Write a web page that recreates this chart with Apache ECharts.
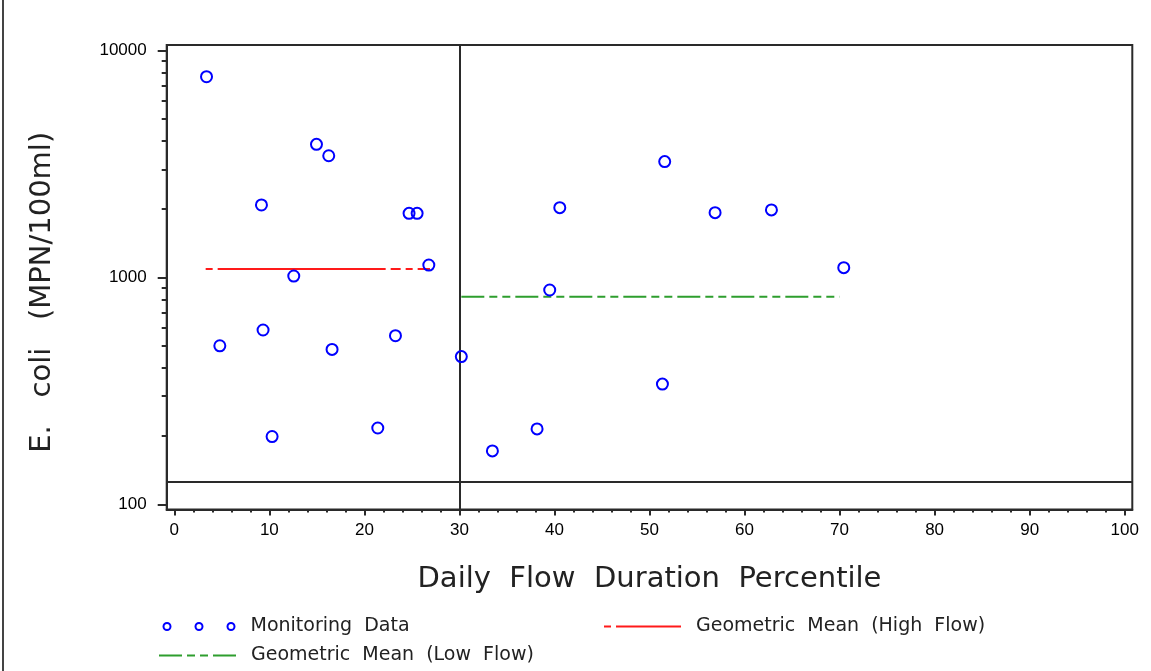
<!DOCTYPE html>
<html><head><meta charset="utf-8">
<script src="https://cdn.jsdelivr.net/npm/echarts@6/dist/echarts.min.js"></script>
<style>html,body{margin:0;padding:0;background:#fff}#wrap{position:relative;width:1151px;height:671px}#c{width:1151px;height:671px}#edge{position:absolute;left:2px;top:0;width:2px;height:671px;background:#444}</style>
</head><body><div id="wrap"><div id="c"></div><div id="edge"></div></div><script>
// Monitoring data: flow duration percentile vs E. coli
const pctile = [3.39, 4.79, 9.17, 9.34, 10.29, 12.57, 14.96, 16.25, 16.6, 21.41, 23.27, 24.7, 25.55, 26.78, 30.2, 33.47, 38.17, 39.5, 40.56, 51.36, 51.6, 56.9, 62.83, 70.44];
const ecoli  = [7680, 500, 2089, 587, 199, 1015, 3864, 3443, 482, 217, 554, 1919, 1919, 1135, 448, 172, 215, 881, 2032, 339, 3244, 1932, 1986, 1105];
// Geometric means
const highFlowX = [3.3, 26.9];
const highFlowMean = 1090;
const lowFlowX = [30.2, 70.0];
const lowFlowMean = 823;
// Reference lines
const refX = 30;
const refY = 126;
// Axis ticks
const xMajorTicks = [0, 10, 20, 30, 40, 50, 60, 70, 80, 90, 100];
const xMinorTicks = [2, 4, 6, 8, 12, 14, 16, 18, 22, 24, 26, 28, 32, 34, 36, 38, 42, 44, 46, 48, 52, 54, 56, 58, 62, 64, 66, 68, 72, 74, 76, 78, 82, 84, 86, 88, 92, 94, 96, 98];
const yMajorTicks = [100, 1000, 10000];
const yMinorTicks = [200, 300, 400, 500, 600, 700, 800, 900, 2000, 3000, 4000, 5000, 6000, 7000, 8000, 9000];
const xRange = [-0.8, 100.8];
const yRange = [94.9, 10595];

const FONT = 'Liberation Sans, Arial, sans-serif';
const TFONT = 'DejaVu Sans, sans-serif';
const frameColor = '#2a2a2a';

const chart = echarts.init(document.getElementById('c'), null, {renderer: 'canvas'});
const ringsIcon = 'path://M0.5,4A3.5,3.5 0 1,1 7.5,4A3.5,3.5 0 1,1 0.5,4Z M32.5,4A3.5,3.5 0 1,1 39.5,4A3.5,3.5 0 1,1 32.5,4Z M64.5,4A3.5,3.5 0 1,1 71.5,4A3.5,3.5 0 1,1 64.5,4Z';
const noSymbol = {color: 'rgba(0,0,0,0)', borderWidth: 0, borderColor: 'rgba(0,0,0,0)'};

chart.setOption({
  animation: false,
  backgroundColor: '#fff',
  grid: {left: 166.7, right: 18.7, top: 45, bottom: 161.5, show: true, borderColor: frameColor, borderWidth: 2, containLabel: false},
  xAxis: [{
    type: 'value', min: xRange[0], max: xRange[1], position: 'bottom',
    name: 'Daily  Flow  Duration  Percentile', nameLocation: 'middle', nameGap: 55,
    nameTextStyle: {fontFamily: TFONT, fontSize: 29, color: '#222'},
    axisLine: {show: true, onZero: false, lineStyle: {color: frameColor, width: 2}},
    axisTick: {show: true, customValues: xMajorTicks, length: 6, lineStyle: {color: frameColor, width: 2}},
    axisLabel: {customValues: xMajorTicks, margin: 12, fontFamily: FONT, fontSize: 17, color: '#000', formatter: v => String(Math.round(v))},
    splitLine: {show: false}
  }, {
    type: 'value', min: xRange[0], max: xRange[1], position: 'bottom',
    axisLine: {show: false, onZero: false},
    axisTick: {show: true, customValues: xMinorTicks, length: 3, lineStyle: {color: frameColor, width: 2}},
    axisLabel: {show: false},
    splitLine: {show: false}
  }],
  yAxis: [{
    type: 'log', logBase: 10, min: yRange[0], max: yRange[1], position: 'left',
    name: 'E.   coli   (MPN/100ml)', nameLocation: 'middle', nameGap: 110,
    nameTextStyle: {fontFamily: TFONT, fontSize: 29, color: '#222', padding: [0, 30, 0, 0]},
    axisLine: {show: true, onZero: false, lineStyle: {color: frameColor, width: 2}},
    axisTick: {show: true, customValues: yMajorTicks, length: 9, lineStyle: {color: frameColor, width: 2}},
    axisLabel: {customValues: yMajorTicks, margin: 20, fontFamily: FONT, fontSize: 17, color: '#000', formatter: v => String(Math.round(v))},
    splitLine: {show: false}
  }, {
    type: 'log', logBase: 10, min: yRange[0], max: yRange[1], position: 'left',
    axisLine: {show: false, onZero: false},
    axisTick: {show: true, customValues: yMinorTicks, length: 5, lineStyle: {color: frameColor, width: 2}},
    axisLabel: {show: false},
    splitLine: {show: false}
  }],
  legend: [{
    left: 162.5, top: 617, padding: 0, itemWidth: 71, itemHeight: 7,
    textStyle: {fontFamily: TFONT, fontSize: 19, color: '#222', lineHeight: 18, padding: [0, 0, 0, 11]},
    data: [{name: 'Monitoring Data', icon: ringsIcon, itemStyle: {color: 'rgba(0,0,0,0)', borderColor: '#0000ff', borderWidth: 2}}],
    formatter: () => 'Monitoring  Data'
  }, {
    left: 603, top: 617, padding: 0, itemWidth: 77, itemHeight: 7,
    textStyle: {fontFamily: TFONT, fontSize: 19, color: '#222', lineHeight: 18, padding: [0, 0, 0, 10]},
    itemStyle: noSymbol,
    data: [{name: 'Geometric Mean (High Flow)', itemStyle: noSymbol}],
    formatter: () => 'Geometric  Mean  (High  Flow)'
  }, {
    left: 158, top: 646, padding: 0, itemWidth: 80, itemHeight: 7,
    textStyle: {fontFamily: TFONT, fontSize: 19, color: '#222', lineHeight: 18, padding: [0, 0, 0, 7]},
    itemStyle: noSymbol,
    data: [{name: 'Geometric Mean (Low Flow)', itemStyle: noSymbol}],
    formatter: () => 'Geometric  Mean  (Low  Flow)'
  }],
  series: [{
    name: 'Monitoring Data', type: 'scatter', xAxisIndex: 0, yAxisIndex: 0,
    symbol: 'circle', symbolSize: 11,
    itemStyle: {color: 'rgba(0,0,0,0)', borderColor: '#0000ff', borderWidth: 2, opacity: 1},
    data: pctile.map((x, i) => [x, ecoli[i]]),
    markLine: {
      silent: true, symbol: ['none', 'none'], animation: false,
      label: {show: false},
      lineStyle: {color: frameColor, width: 2, type: 'solid'},
      emphasis: {disabled: true},
      data: [{xAxis: refX}, {yAxis: refY}]
    },
    z: 5
  }, {
    name: 'Geometric Mean (High Flow)', type: 'line', xAxisIndex: 0, yAxisIndex: 0,
    symbol: 'none', silent: true,
    lineStyle: {color: '#ff1a1a', width: 2, type: [7, 5, 168, 5, 10, 5]},
    itemStyle: {color: '#ff1a1a'},
    data: highFlowX.map(x => [x, highFlowMean]), z: 4
  }, {
    name: 'Geometric Mean (Low Flow)', type: 'line', xAxisIndex: 0, yAxisIndex: 0,
    symbol: 'none', silent: true,
    lineStyle: {color: '#2e9e2e', width: 2, type: [23, 5, 8, 5, 8, 5]},
    itemStyle: {color: '#2e9e2e'},
    data: lowFlowX.map(x => [x, lowFlowMean]), z: 4
  }]
});
</script></body></html>
